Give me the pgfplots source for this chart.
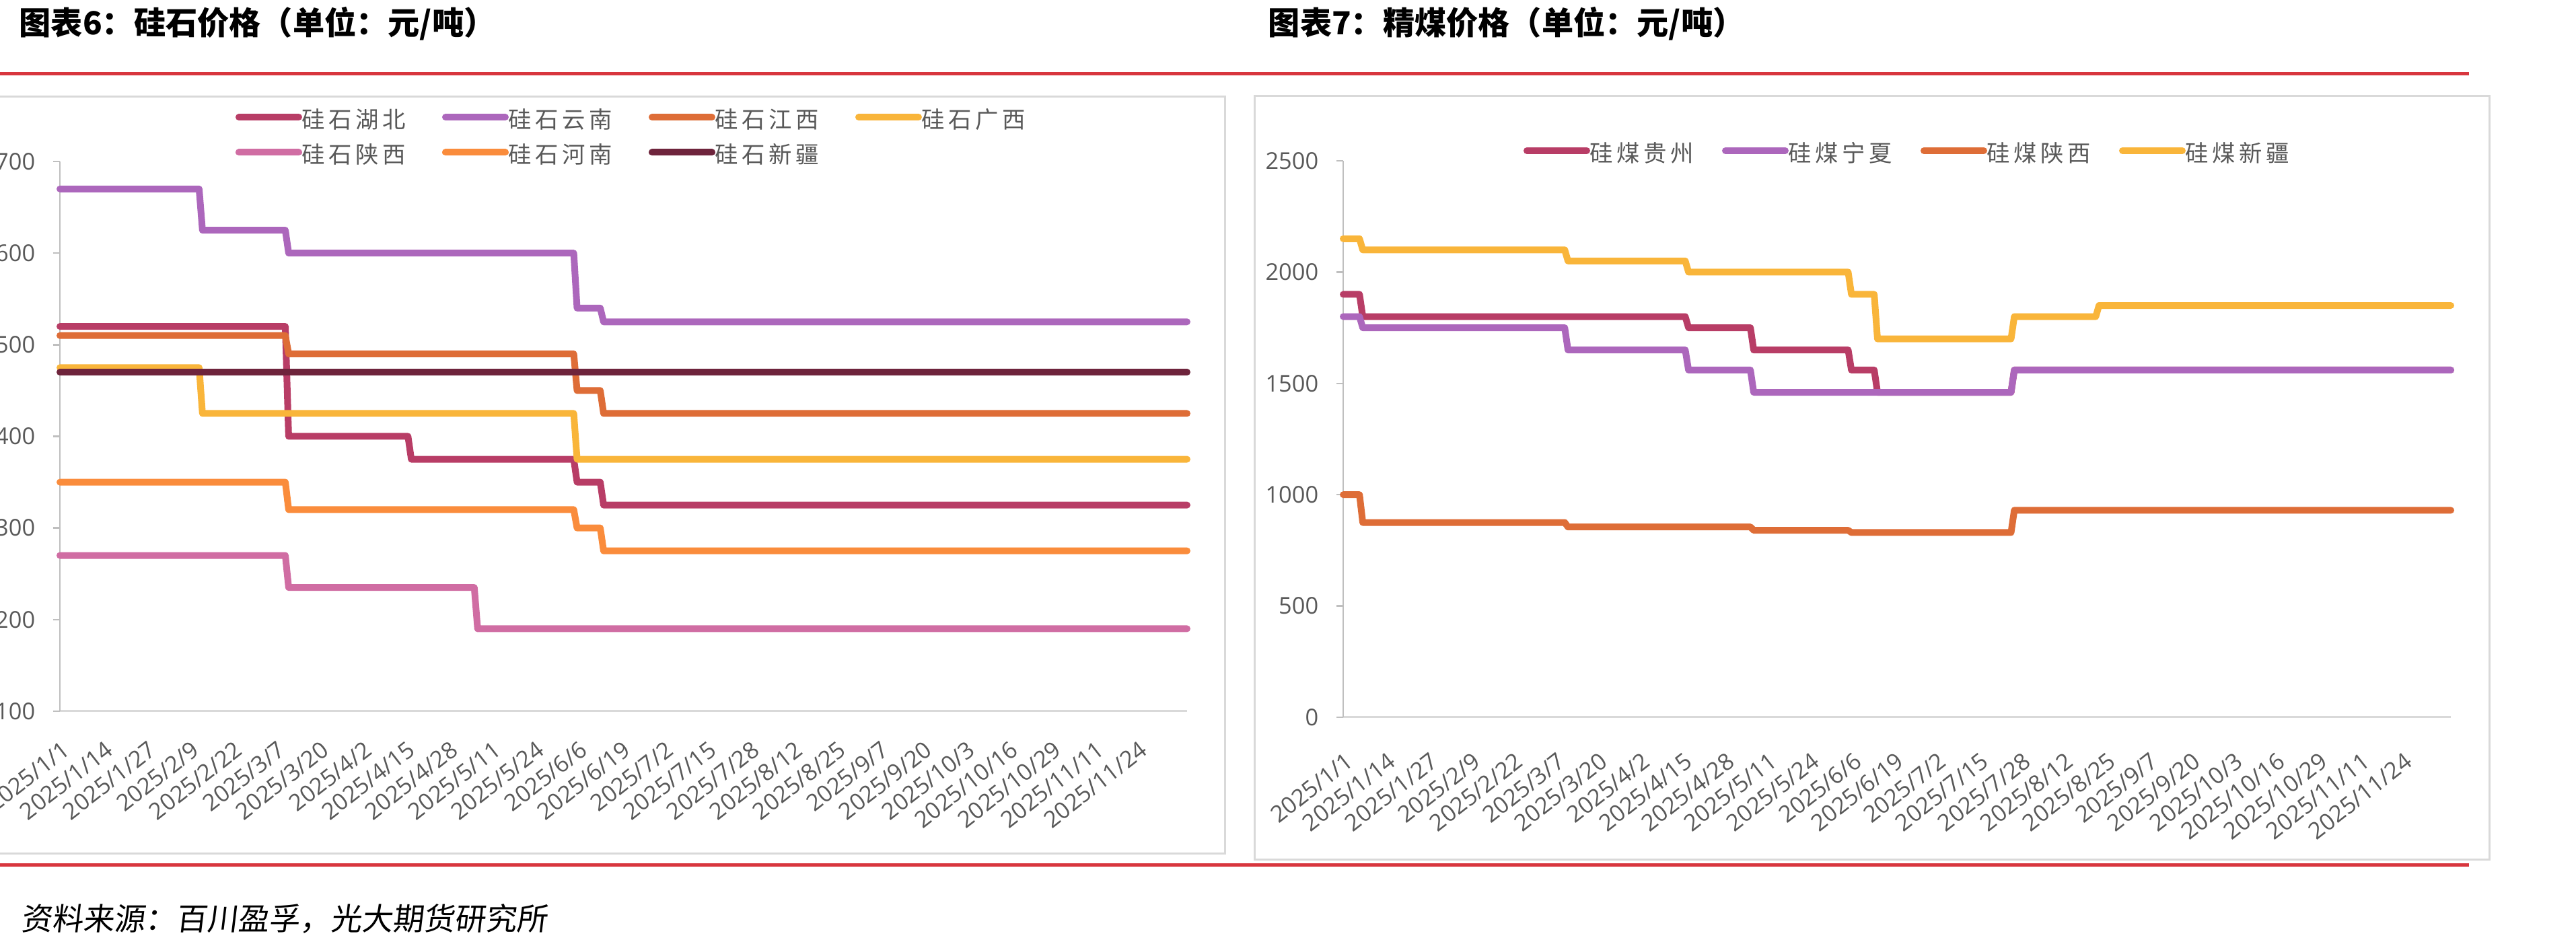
\documentclass[border=0pt]{standalone}
\usepackage{fontspec}
\usepackage{pgfplots}
\pgfplotsset{compat=1.18}
\setmainfont{Noto Sans CJK SC}
\newfontfamily\legfont{Noto Sans CJK SC}[LetterSpace=16]
\newfontfamily\numfont{Open Sans}
\newfontfamily\srcfont{Noto Sans CJK SC}[FakeSlant=0.12]
\definecolor{c1}{HTML}{B83D66}
\definecolor{c2}{HTML}{AC67BC}
\definecolor{c3}{HTML}{DE6D37}
\definecolor{c4}{HTML}{F9B53A}
\definecolor{c5}{HTML}{D06DA3}
\definecolor{c6}{HTML}{FA8C3C}
\definecolor{c7}{HTML}{6E243C}
\definecolor{tickgray}{HTML}{595959}
\definecolor{axisgray}{HTML}{D9D9D9}
\definecolor{ygray}{HTML}{BFBFBF}
\definecolor{redline}{HTML}{D8363E}
\definecolor{panelgray}{HTML}{D9D9D9}
\pgfplotsset{
  mychart/.style={
    scale only axis, axis lines=left, clip=false,
    x axis line style={-, draw=axisgray, line width=0.75pt},
    y axis line style={-, draw=ygray, line width=0.6pt},
    xmin=0, xmax=340,
    xtick={0,13,...,325},
    xticklabels={2025/1/1,2025/1/14,2025/1/27,2025/2/9,2025/2/22,2025/3/7,2025/3/20,2025/4/2,2025/4/15,2025/4/28,2025/5/11,2025/5/24,2025/6/6,2025/6/19,2025/7/2,2025/7/15,2025/7/28,2025/8/12,2025/8/25,2025/9/7,2025/9/20,2025/10/3,2025/10/16,2025/10/29,2025/11/11,2025/11/24},
    xtick style={draw=none},
    ytick style={draw=ygray, line width=0.6pt},
    major tick length=2.5pt, tick align=outside,
    tick label style={font=\numfont\fontsize{8.6}{10}\selectfont, text=tickgray},
    /pgf/number format/assume math mode=true,
    /pgf/number format/1000 sep={},
    scaled y ticks=false,
    yticklabel style={anchor=east, inner sep=0pt, xshift=-6.5pt},
    every axis plot/.append style={line width=2.5pt, line join=round, line cap=round},
    legend image code/.code={\path[draw=none, fill=none] (0pt,-1pt) rectangle (24.75pt,3pt); \draw[line width=2.5pt, line cap=round] (1.25pt,1.2pt) -- (23.5pt,1.2pt);},
    legend style={draw=none, fill=none, inner sep=0pt, outer sep=0pt, anchor=north west,
      font=\legfont\fontsize{8.6}{10}\selectfont, text=tickgray,
      /tikz/every even column/.append style={column sep=1.5pt}, row sep=4.3pt},
  }
}
\begin{document}
\begin{tikzpicture}
\useasboundingbox (0,0) rectangle (957pt,350pt);
% frames and rules
\draw[panelgray, line width=0.75pt] (-5pt,32.75pt) rectangle (455pt,314pt);
\draw[panelgray, line width=0.75pt] (466pt,30.5pt) rectangle (924.75pt,314.25pt);
\draw[redline, line width=1.25pt] (0pt,322.5pt) -- (917.25pt,322.5pt);
\draw[redline, line width=1.25pt] (0pt,28.5pt) -- (917.25pt,28.5pt);
\node[anchor=west, inner sep=0pt, font=\bfseries\fontsize{11.8}{13}\selectfont] at (7pt,341.25pt) {图表6：硅石价格（单位：元/吨）};
\node[anchor=west, inner sep=0pt, font=\bfseries\fontsize{11.8}{13}\selectfont] at (471pt,341.25pt) {图表7：精煤价格（单位：元/吨）};
\node[anchor=west, inner sep=0pt, font=\srcfont\fontsize{11.5}{13}\selectfont] at (7.75pt,8.75pt) {资料来源：百川盈孚，光大期货研究所};

% left chart
\begin{axis}[mychart, at={(22.25pt,85.75pt)}, anchor=south west,
  width=418.75pt, height=204.25pt,
  ymin=100, ymax=700, ytick={100,200,...,700},
  xticklabel style={xshift=0.5pt, yshift=-8pt, rotate=38, anchor=north east, inner sep=0pt},
  legend columns=4,
  legend style={at={(0.1558,1.0960)}, nodes={inner sep=0pt, text width=50.5pt}},
]
\addplot[c1] coordinates {(0,520)(68,520)(69,400)(105,400)(106,375)(155,375)(156,350)(163,350)(164,325)(340,325)};
\addlegendentry{硅石湖北}
\addplot[c2] coordinates {(0,670)(42,670)(43,625)(68,625)(69,600)(155,600)(156,540)(163,540)(164,525)(340,525)};
\addlegendentry{硅石云南}
\addplot[c3] coordinates {(0,510)(68,510)(69,490)(155,490)(156,450)(163,450)(164,425)(340,425)};
\addlegendentry{硅石江西}
\addplot[c4] coordinates {(0,475)(42,475)(43,425)(155,425)(156,375)(340,375)};
\addlegendentry{硅石广西}
\addplot[c5] coordinates {(0,270)(68,270)(69,235)(125,235)(126,190)(340,190)};
\addlegendentry{硅石陕西}
\addplot[c6] coordinates {(0,350)(68,350)(69,320)(155,320)(156,300)(163,300)(164,275)(340,275)};
\addlegendentry{硅石河南}
\addplot[c7] coordinates {(0,470)(340,470)};
\addlegendentry{硅石新疆}
\end{axis}

% right chart
\begin{axis}[mychart, at={(499pt,83.5pt)}, anchor=south west,
  width=411.5pt, height=206.75pt,
  ymin=0, ymax=2500, ytick={0,500,...,2500},
  xticklabel style={xshift=0.5pt, yshift=-10pt, rotate=38, anchor=north east, inner sep=0pt},
  legend columns=4,
  legend style={at={(0.1628,1.0335)}, nodes={inner sep=0pt, text width=47.5pt}},
]
\addplot[c1] coordinates {(0,1900)(5,1900)(6,1800)(105,1800)(106,1750)(125,1750)(126,1650)(155,1650)(156,1560)(163,1560)(164,1460)(205,1460)(206,1560)(340,1560)};
\addlegendentry{硅煤贵州}
\addplot[c2] coordinates {(0,1800)(5,1800)(6,1750)(68,1750)(69,1650)(105,1650)(106,1560)(125,1560)(126,1460)(205,1460)(206,1560)(340,1560)};
\addlegendentry{硅煤宁夏}
\addplot[c3] coordinates {(0,1000)(5,1000)(6,875)(68,875)(69,855)(125,855)(126,840)(155,840)(156,830)(205,830)(206,930)(340,930)};
\addlegendentry{硅煤陕西}
\addplot[c4] coordinates {(0,2150)(5,2150)(6,2100)(68,2100)(69,2050)(105,2050)(106,2000)(155,2000)(156,1900)(163,1900)(164,1700)(205,1700)(206,1800)(231,1800)(232,1850)(340,1850)};
\addlegendentry{硅煤新疆}
\end{axis}
\end{tikzpicture}
\end{document}
